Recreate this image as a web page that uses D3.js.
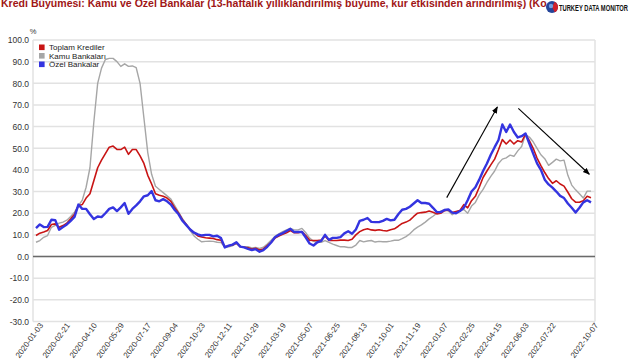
<!DOCTYPE html>
<html><head><meta charset="utf-8">
<script src="https://cdn.jsdelivr.net/npm/d3@7"></script>
<style>
html,body{margin:0;padding:0;background:#fff;}
svg{display:block;font-family:"Liberation Sans",Arial,sans-serif;}
</style></head><body>
<svg id="chart" width="640" height="360"></svg>
<script>
const titleText = "Kredi Büyümesi: Kamu ve Özel Bankalar (13-haftalık yıllıklandırılmış büyüme, kur etkisinden arındırılmış) (Ko";
const logoText = "TURKEY DATA MONITOR";
const unitLabel = "%";
const startDate = "2020-01-03";
const weekCount = 145;
const xTickLabels = ["2020-01-03","2020-02-21","2020-04-10","2020-05-29","2020-07-17","2020-09-04","2020-10-23","2020-12-11","2021-01-29","2021-03-19","2021-05-07","2021-06-25","2021-08-13","2021-10-01","2021-11-19","2022-01-07","2022-02-25","2022-04-15","2022-06-03","2022-07-22","2022-10-07"];
const yTicks = [100,90,80,70,60,50,40,30,20,10,0,-10,-20,-30];
const seriesNames = ["Toplam Krediler","Kamu Bankaları","Özel Bankalar"];
const seriesColors = ["#c81414","#a6a6a6","#3434e0"];

const toplam = [
 9.7,10.8,11.3,12,14.8,15.1,13.5,14.3,15.4,17.4,
 19.5,23.5,24,27,29,35,41,44.5,47.5,50.5,
 51,49.5,49.4,50.5,47.2,49.4,49.4,46.5,43,37.5,
 33.5,29,28.3,27.8,27,25.5,22.5,20,17,14.8,
 12.5,11,9.5,9,8.7,8.5,8.3,7.8,7.5,4.5,
 5,5.3,6.2,4.6,4.3,4,3.5,3.8,3,3.5,
 5,6.5,8.5,9.5,10.3,11,12,11,11,11.5,
 9.7,7.5,7.4,7.4,7.6,9.5,7.4,7.4,7.4,7.6,
 7.6,7.4,8,10,11.5,12.4,12.8,12.3,12.1,12.4,
 12,11.8,12.4,12.8,14,15.3,15.9,16.8,18.5,20,
 20.3,20.5,21,20.5,19.7,20,21.2,21.5,20.3,20.8,
 21.3,24,22.5,25.8,27.8,32,36.5,39.5,42.3,45,
 49.3,54,52,53.8,52,53.5,52.9,56.5,53.5,50,
 45.5,42,38.8,36,33.8,35,33.5,32.5,29.7,26.7,
 25.1,25.1,25.8,27.8,27.2];

const kamu = [
 6.6,7.4,8.9,9.7,13.5,14.4,15.4,15.9,16.8,18.5,
 20.5,23.5,26,32,41,62,80,87,91,91.5,
 91.5,90,87.8,89,87.8,88,87.2,80,64,48,
 38,32.5,31,29.5,28,26.5,23.5,20.5,17.5,15,
 12,9.5,8,6.8,7,7.1,7,6.6,6.5,4.3,
 4.5,5,6,4.5,4.4,4.5,4,4.2,3.8,4.3,
 5.8,7.5,9.3,10.5,11.5,12.3,13,12.3,12.3,13,
 11,8.5,7,6.6,6.6,7.4,6.5,5.7,5.1,4.5,
 4.5,4.2,4.2,5.3,7.4,6.8,7.2,7.4,6.7,7,
 6.8,6.8,7.1,7.5,7.5,8.3,9.2,10.5,12.3,13.6,
 14.6,15.9,17.4,18.6,20,21,21.7,21,19.3,20.5,
 21.3,21.7,20,23.3,25,28.5,31,34.2,37,39.5,
 43,45,45.6,46.8,46.3,48.8,50.8,56.3,55.2,53,
 50,47,45.2,42.1,43.5,45,44.2,44.5,37.5,33,
 30.8,29,27,30.2,30.2];

const ozel = [
 13.1,14.8,13.6,13.7,17,16.8,12.4,13.6,14.8,16.5,
 18.3,24,22,22,19.5,17.3,18.5,18.2,20,22,
 22.7,21,22.7,24.7,19.7,22,23.6,25.5,27.8,28.3,
 30.2,26,25.5,26.5,25.5,24,21.5,19.5,16.5,14.5,
 12.5,11,10.2,9.7,10,10,9.3,9.6,8.5,4.2,
 5,5.5,6.6,4.6,4.2,3.5,3,3.4,2.2,3,
 4.5,6.5,8.9,10,10.8,11.8,12.8,11.3,11.3,11.3,
 8.8,6,5.1,6.6,7.2,10,7.7,8.6,8.6,9,
 10.7,11.7,10.5,12.5,16.5,17,17.8,16,15.9,15.9,
 16.5,17.4,16.7,17,19.5,21.6,22,23,24.5,26,
 24.7,24.7,24.4,22.5,20.5,20.5,21.5,21.8,20.3,20,
 21,22.5,26,30,32,35.5,39.5,43,47,50.5,
 53.8,61,57.5,61,57.5,55,55.6,56.8,52.2,47.5,
 43,40,35.5,33.3,31.8,30,28,27,24.5,22.5,
 20.3,22.5,25,26,25];

// annotation arrows (date, value) pairs
const arrowStarts = [["2022-01-18",27.2],["2022-05-28",68.4]];
const arrowEnds   = [["2022-04-20",69.1],["2022-10-04",38]];

const parse = d3.timeParse("%Y-%m-%d");
const fmt = d3.timeFormat("%Y-%m-%d");
const t0 = parse(startDate);
const dates = d3.range(weekCount).map(i => d3.timeDay.offset(t0, 7*i));

const svg = d3.select("#chart");
const plotL = 33, plotR = 595, plotT = 40, plotB = 321.5;

const x = d3.scaleTime().domain([dates[0], dates[dates.length-1]]).range([36, 591]);
const y = d3.scaleLinear().domain([-30, 100]).range([plotB, plotT]);

// gridlines
svg.append("g").selectAll("line").data(yTicks).join("line")
  .attr("x1", plotL).attr("x2", plotR)
  .attr("y1", d => y(d)).attr("y2", d => y(d))
  .attr("stroke", "#e2e2e2").attr("stroke-width", 1.5);
svg.append("g").selectAll("line").data([plotL, plotR]).join("line")
  .attr("x1", d => d).attr("x2", d => d)
  .attr("y1", plotT).attr("y2", plotB)
  .attr("stroke", "#e2e2e2").attr("stroke-width", 1.5);
// zero line
svg.append("line").attr("x1", plotL).attr("x2", plotR)
  .attr("y1", y(0)).attr("y2", y(0))
  .attr("stroke", "#6a6a6a").attr("stroke-width", 1.5);

// y axis
const yAx = svg.append("g").attr("transform", `translate(${plotL},0)`)
  .call(d3.axisLeft(y).tickValues(yTicks).tickFormat(d => d.toFixed(1)).tickSize(0).tickPadding(4));
yAx.select(".domain").remove();
yAx.selectAll("text").attr("font-size", "8.5px").attr("fill", "#333").attr("font-family", "Liberation Sans, Arial, sans-serif");

// x axis
const xAx = svg.append("g").attr("transform", `translate(0,${plotB})`)
  .call(d3.axisBottom(x).tickValues(xTickLabels.map(parse)).tickFormat(fmt).tickSize(0));
xAx.select(".domain").remove();
xAx.selectAll("text")
  .attr("y", 0).attr("dy", 0)
  .attr("text-anchor", "end")
  .attr("transform", "translate(7,4) rotate(-54)")
  .attr("font-size", "8px").attr("fill", "#333").attr("font-family", "Liberation Sans, Arial, sans-serif");

// unit label
svg.append("text").attr("x", 33).attr("y", 34).attr("text-anchor", "middle")
  .attr("font-size", "7.5px").attr("fill", "#333").text(unitLabel);

// lines
const line = d3.line().x((d, i) => x(dates[i])).y(d => y(d));
const series = [toplam, kamu, ozel];
const widths = [1.6, 1.4, 2.4];
[1, 0, 2].forEach(k => {
  svg.append("path").datum(series[k]).attr("d", line)
    .attr("fill", "none").attr("stroke", seriesColors[k])
    .attr("stroke-width", widths[k]).attr("stroke-linejoin", "round");
});

// arrows
svg.append("defs").append("marker").attr("id", "ah")
  .attr("viewBox", "0 0 10 10").attr("refX", 9).attr("refY", 5)
  .attr("markerUnits", "userSpaceOnUse").attr("markerWidth", 7).attr("markerHeight", 7)
  .attr("orient", "auto")
  .append("path").attr("d", "M0,1 L10,5 L0,9 Z").attr("fill", "#000");
arrowStarts.forEach((s, k) => {
  const e = arrowEnds[k];
  svg.append("line")
    .attr("x1", x(parse(s[0]))).attr("y1", y(s[1]))
    .attr("x2", x(parse(e[0]))).attr("y2", y(e[1]))
    .attr("stroke", "#000").attr("stroke-width", 1.1)
    .attr("marker-end", "url(#ah)");
});

// legend
const lg = svg.append("g").attr("transform", "translate(39,47.3)");
seriesNames.forEach((n, k) => {
  lg.append("rect").attr("x", 0).attr("y", k*8.5 - 2.8).attr("width", 5.6).attr("height", 5.6)
    .attr("fill", seriesColors[k]);
  lg.append("text").attr("x", 10).attr("y", k*8.5).attr("dy", "0.35em")
    .attr("font-size", "8px").attr("fill", "#222").text(n);
});

// title
const title = svg.append("text").attr("x", 1).attr("y", 6.5)
  .attr("font-size", "11px").attr("font-weight", "bold").attr("fill", "#a01616")
  .text(titleText);
const tl = title.node().getComputedTextLength();
title.attr("font-size", (11 * 546 / tl).toFixed(2) + "px");

// logo
const logo = svg.append("g").attr("transform", "translate(552,7)");
logo.append("circle").attr("r", 6).attr("fill", "#24459a");
logo.append("path").attr("d", d3.arc()({innerRadius: 0, outerRadius: 6, startAngle: Math.PI*0.15, endAngle: Math.PI*0.85})).attr("fill", "#d0202a");
logo.append("circle").attr("r", 2.2).attr("cx", -1).attr("cy", -1).attr("fill", "#6fa0e0");
svg.append("text").attr("x", 559).attr("y", 11)
  .attr("font-size", "8.5px").attr("font-weight", "bold").attr("fill", "#111")
  .attr("textLength", 69).attr("lengthAdjust", "spacingAndGlyphs")
  .text(logoText);
</script>
</body></html>
